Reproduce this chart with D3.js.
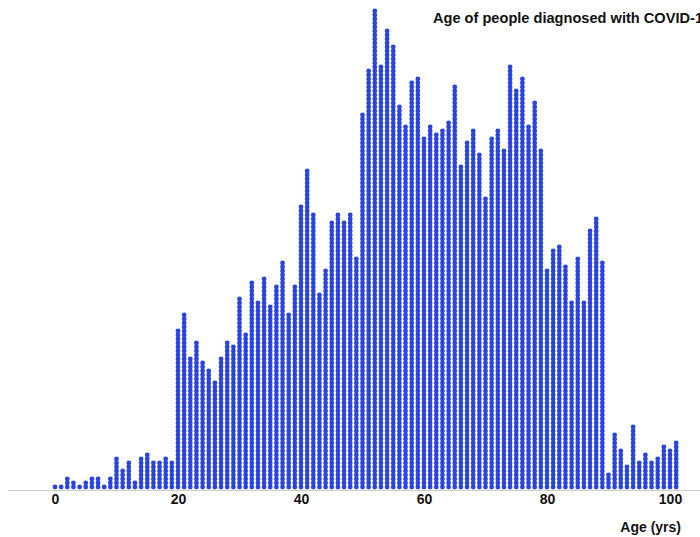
<!DOCTYPE html>
<html>
<head>
<meta charset="utf-8">
<script src="https://cdn.jsdelivr.net/npm/d3@7"></script>
<style>
  body { margin: 0; background: #fff; }
  svg { display: block; }
  .tick text { font-family: "Liberation Sans", Arial, sans-serif; font-weight: bold; font-size: 14px; fill: #111; }
</style>
</head>
<body>
<div id="chart"></div>
<script>
// one column of dots per age, one dot per person
var ages = d3.range(0, 102);
var counts = [
  1, 1, 3, 2, 1, 2, 3, 3, 1, 3,
  8, 5, 7, 2, 8, 9, 7, 7, 8, 7,
  40, 44, 33, 37, 32, 30, 27, 33, 37, 36,
  48, 39, 52, 47, 53, 46, 51, 57, 44, 51,
  71, 80, 69, 49, 55, 67, 69, 67, 69, 58,
  94, 105, 120, 106, 115, 111, 96, 91, 102, 103,
  88, 91, 89, 90, 92, 101, 81, 87, 90, 84,
  73, 88, 90, 85, 106, 100, 103, 91, 97, 85,
  55, 60, 61, 56, 47, 58, 47, 65, 68, 57,
  4, 14, 10, 6, 16, 7, 9, 7, 8, 11,
  10, 12
];
var tickValues = [0, 20, 40, 60, 80, 100];
var title = "Age of people diagnosed with COVID-19";
var xLabel = "Age (yrs)";

var width = 700, height = 537;
var svg = d3.select('#chart').append('svg')
    .attr('width', width)
    .attr('height', height);

var x = d3.scaleLinear().domain([0, 100]).range([55, 670]);
var y = d3.scaleLinear().domain([0, 120]).range([489, 9]);

// baseline
svg.append('line')
    .attr('x1', 8).attr('x2', width)
    .attr('y1', 490.5).attr('y2', 490.5)
    .attr('stroke', '#cfcfcf')
    .attr('stroke-width', 1);

var dots = [];
ages.forEach(function(a, i) {
    for (var k = 0; k < counts[i]; k++) dots.push({age: a, k: k});
});

svg.append('g')
    .attr('class', 'dots')
    .selectAll('circle')
    .data(dots)
    .enter().append('circle')
    .attr('cx', function(d) { return x(d.age); })
    .attr('cy', function(d) { return y(d.k + 0.5); })
    .attr('r', 2.4)
    .attr('fill', '#2a44e2');

var axis = svg.append('g')
    .attr('transform', 'translate(0,491)')
    .call(d3.axisBottom(x).tickValues(tickValues).tickSize(0).tickPadding(3));
axis.select('.domain').remove();

svg.append('text')
    .attr('x', 681)
    .attr('y', 532)
    .attr('text-anchor', 'end')
    .attr('font-family', '"Liberation Sans", Arial, sans-serif')
    .attr('font-weight', 'bold')
    .attr('font-size', 14)
    .attr('fill', '#111')
    .text(xLabel);

svg.append('text')
    .attr('x', 433)
    .attr('y', 23)
    .attr('font-family', '"Liberation Sans", Arial, sans-serif')
    .attr('font-weight', 'bold')
    .attr('font-size', 14.6)
    .attr('fill', '#111')
    .text(title);
</script>
</body>
</html>
